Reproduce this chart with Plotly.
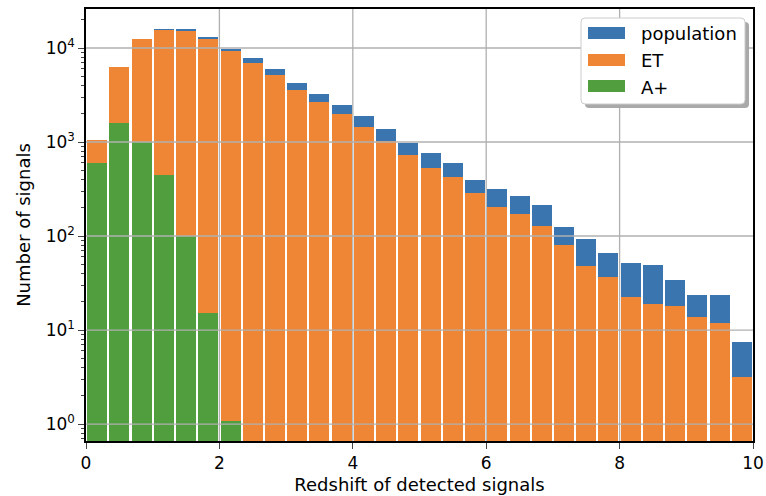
import numpy as np
import plotly.graph_objects as go

# ---- data ----
bin_edges = np.linspace(0, 10, 31)
population = [1040, 6300, 12400, 15900, 15800, 13200, 9840, 7890, 5930, 4270,
              3210, 2460, 1877, 1375, 984, 769, 593, 397, 314, 268,
              214, 125, 92, 66, 52, 49, 34, 23.4, 23.4, 7.45]
et = [1040, 6300, 12400, 15600, 15000, 12400, 9300, 6980, 5160, 3600,
      2680, 2000, 1455, 1025, 720, 533, 427, 285, 205, 170,
      127, 80, 47.6, 36.3, 22.4, 18.9, 18, 13.9, 11.8, 3.18]
aplus = [603, 1580, 993, 446, 101, 15, 1.07] + [None] * 23
series_names = ["population", "ET", "A+"]
colors = ["#3a75b0", "#ef8636", "#519e3e"]
x_ticks = [0, 2, 4, 6, 8, 10]
y_ticks = [1, 10, 100, 1000, 10000]
y_ticktext = ["10<sup>0</sup>", "10<sup>1</sup>", "10<sup>2</sup>", "10<sup>3</sup>", "10<sup>4</sup>"]

centers = (bin_edges[:-1] + bin_edges[1:]) / 2
bw = (bin_edges[1] - bin_edges[0]) * 0.9

fig = go.Figure()
for name, vals, col in zip(series_names, [population, et, aplus], colors):
    fig.add_trace(go.Bar(x=centers, y=vals, width=bw, marker=dict(color=col, line=dict(width=0)),
                         name=name, showlegend=False, opacity=1))

# gridlines drawn above bars (as in reference)
gc = "#b0b0b0"
for yv in y_ticks:
    fig.add_trace(go.Scatter(x=[0, 10], y=[yv, yv], mode="lines", line=dict(color=gc, width=1.3),
                             showlegend=False, hoverinfo="skip"))
for xv in x_ticks[1:-1]:
    fig.add_trace(go.Scatter(x=[xv, xv], y=[0.66, 26000], mode="lines", line=dict(color=gc, width=1.3),
                             showlegend=False, hoverinfo="skip"))

font = "DejaVu Sans"
L, R, T, B = 86, 13, 9, 55
W, H = 766, 496
pw, ph = W - L - R, H - T - B

def px_x(p):
    return (p - L) / pw

def px_y(p):
    return (H - B - p) / ph

def rounded_rect(x0, y0, x1, y1, r):
    X = lambda p: px_x(p)
    Y = lambda p: px_y(p)
    return (f"M{X(x0+r)},{Y(y0)} L{X(x1-r)},{Y(y0)} Q{X(x1)},{Y(y0)} {X(x1)},{Y(y0+r)} "
            f"L{X(x1)},{Y(y1-r)} Q{X(x1)},{Y(y1)} {X(x1-r)},{Y(y1)} "
            f"L{X(x0+r)},{Y(y1)} Q{X(x0)},{Y(y1)} {X(x0)},{Y(y1-r)} "
            f"L{X(x0)},{Y(y0+r)} Q{X(x0)},{Y(y0)} {X(x0+r)},{Y(y0)} Z")

# legend (matplotlib style, with shadow)
lx0, ly0, lx1, ly1 = 581, 18, 745, 104
shapes = [
    dict(type="path", xref="paper", yref="paper", path=rounded_rect(lx0 + 4, ly0 + 4, lx1 + 4, ly1 + 4, 4),
         fillcolor="#a9a9a9", line=dict(width=0), layer="above"),
    dict(type="path", xref="paper", yref="paper", path=rounded_rect(lx0, ly0, lx1, ly1, 4),
         fillcolor="white", line=dict(color="#cccccc", width=1), layer="above"),
]
annotations = []
rows = [33, 60, 86]
for name, col, ry in zip(series_names, colors, rows):
    shapes.append(dict(type="rect", xref="paper", yref="paper",
                       x0=px_x(588), x1=px_x(625), y0=px_y(ry + 6), y1=px_y(ry - 6),
                       fillcolor=col, line=dict(width=0), layer="above"))
    annotations.append(dict(xref="paper", yref="paper", x=px_x(639), y=px_y(ry + 1), text=name,
                            showarrow=False, xanchor="left", yanchor="middle",
                            font=dict(family=font, size=18, color="black")))

fig.update_layout(
    width=W, height=H,
    margin=dict(l=L, r=R, t=T, b=B, pad=0),
    barmode="overlay",
    bargap=0,
    plot_bgcolor="white", paper_bgcolor="white",
    font=dict(family=font, size=17, color="black"),
    showlegend=False,
    shapes=shapes,
    annotations=annotations,
)
fig.update_xaxes(range=[0, 10], tickvals=x_ticks, ticks="outside", ticklen=6, tickwidth=1.3,
                 showline=True, linecolor="black", linewidth=1.5, mirror=True,
                 showgrid=False, zeroline=False, automargin=False,
                 title=dict(text="Redshift of detected signals", font=dict(size=18), standoff=6),
                 tickfont=dict(size=17))
fig.update_yaxes(type="log", range=[np.log10(0.66), np.log10(26000)],
                 tickvals=y_ticks, ticktext=y_ticktext, ticks="outside", ticklen=6, tickwidth=1.3,
                 minor=dict(ticks="outside", ticklen=3, tickwidth=1, dtick="D1", showgrid=False),
                 showline=True, linecolor="black", linewidth=1.5, mirror=True,
                 showgrid=False, zeroline=False, automargin=False,
                 title=dict(text="Number of signals", font=dict(size=18), standoff=10),
                 tickfont=dict(size=17))

fig.write_html("out.html", config={"displayModeBar": False},
               post_script="document.body.style.margin='0';")
